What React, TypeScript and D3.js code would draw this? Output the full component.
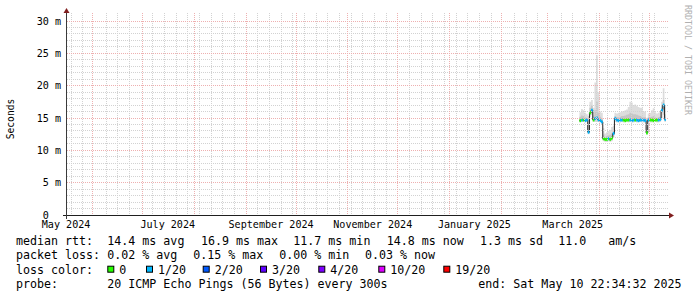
import React from "react";
import * as d3 from "d3";

// ---------- data ----------
const END_TIME = Date.UTC(2025, 4, 10, 22, 34, 32);
const SPAN_DAYS = 360;
const DATA_START = Date.UTC(2025, 2, 20); // first daily sample
const Y_MAX_MS = 30.93;

const medianMs = [
  14.6, 14.7, 14.7, 14.6, 14.7, 12.8, 15.8, 16.2, 14.7, 14.9,
  15.0, 14.7, 14.6, 14.4, 11.8, 11.7, 11.7, 11.8, 11.7, 11.9,
  12.6, 14.9, 14.7, 14.6, 14.7, 14.7, 14.7, 14.6, 14.7, 14.7,
  14.7, 14.6, 14.7, 14.7, 14.7, 14.6, 14.7, 14.7, 14.7, 14.6,
  12.7, 14.7, 14.7, 14.7, 14.6, 14.7, 14.7, 14.7, 14.8, 16.2,
  17.0, 14.8,
];
const lossPct = [
  0, 0.03, 0, 0.02, 0.04, 0.05, 0, 0.03, 0, 0.06,
  0.15, 0.08, 0.04, 0.03, 0, 0, 0, 0.03, 0, 0,
  0.04, 0.03, 0.02, 0.03, 0.02, 0.03, 0, 0, 0, 0,
  0.03, 0.02, 0.03, 0, 0.02, 0.03, 0.02, 0.03, 0.02, 0.03,
  0, 0.02, 0, 0, 0, 0, 0, 0.03, 0.02, 0.04,
  0.05, 0.03,
];
const smokeMin = [
  14.3, 14.4, 14.4, 14.3, 14.4, 12.5, 15.2, 15.5, 14.4, 14.4,
  14.4, 14.4, 14.3, 14.1, 11.4, 11.3, 11.3, 11.4, 11.3, 11.4,
  12.0, 14.4, 14.3, 14.3, 14.3, 14.4, 14.3, 14.3, 14.4, 14.3,
  14.4, 14.3, 14.3, 14.4, 14.3, 14.3, 14.4, 14.3, 14.3, 14.3,
  12.4, 14.4, 14.3, 14.3, 14.3, 14.4, 14.3, 14.3, 14.4, 15.0,
  15.5, 14.4,
];
const smokeLowQ = [
  14.5, 14.5, 14.5, 14.5, 14.5, 12.7, 15.5, 15.9, 14.6, 14.7,
  14.8, 14.6, 14.5, 14.3, 11.6, 11.5, 11.5, 11.6, 11.5, 11.7,
  12.4, 14.7, 14.5, 14.5, 14.5, 14.5, 14.5, 14.5, 14.5, 14.5,
  14.5, 14.5, 14.5, 14.5, 14.5, 14.5, 14.5, 14.5, 14.5, 14.5,
  12.6, 14.5, 14.5, 14.5, 14.5, 14.5, 14.5, 14.5, 14.6, 15.8,
  16.4, 14.6,
];
const smokeHighQ = [
  15.2, 15.4, 15.3, 15.1, 15.0, 13.9, 16.6, 16.9, 15.4, 16.2,
  17.5, 15.8, 15.2, 14.9, 12.4, 12.1, 12.2, 12.3, 12.4, 12.6,
  13.2, 15.3, 15.1, 15.1, 15.2, 15.3, 15.3, 15.4, 15.5, 15.6,
  15.8, 15.7, 15.6, 15.6, 15.5, 15.4, 15.3, 15.2, 15.1, 15.1,
  13.6, 15.1, 15.1, 15.2, 15.3, 15.1, 15.0, 15.1, 15.2, 16.8,
  17.8, 15.6,
];
const smokeMax = [
  15.9, 16.4, 16.2, 15.8, 15.6, 15.3, 17.5, 17.8, 16.6, 20.5,
  24.7, 19.0, 16.0, 15.8, 13.4, 12.6, 12.8, 13.0, 13.2, 13.6,
  13.8, 15.8, 15.7, 15.8, 15.9, 16.0, 16.1, 16.2, 16.3, 16.7,
  17.5, 17.4, 17.0, 17.1, 16.9, 16.7, 16.6, 16.6, 16.0, 16.0,
  15.0, 15.7, 15.8, 16.2, 16.5, 15.9, 15.7, 15.8, 16.0, 17.5,
  19.6, 17.0,
];

const yMajorTicks = [0, 5, 10, 15, 20, 25, 30];
const yMinorStep = 1;

const lossLabels = ["0", "1/20", "2/20", "3/20", "4/20", "10/20", "19/20"];
const lossLimits = [0, 1, 2, 3, 4, 10, 19]; // lost pings (of 20)
const lossColors = ["#26ff00", "#00b8ff", "#0059ff", "#5e00ff", "#7e00ff", "#dd00ff", "#ff0000"];
const PINGS = 20;

const rttLabel = "median rtt:";
const rttStats = ["14.4 ms avg", "16.9 ms max", "11.7 ms min", "14.8 ms now", "1.3 ms sd", "11.0", "am/s"];
const lossLabel = "packet loss:";
const lossStats = ["0.02 % avg", "0.15 % max", "0.00 % min", "0.03 % now"];
const colorLabel = "loss color:";
const probeLabel = "probe:";
const probeText = "20 ICMP Echo Pings (56 Bytes) every 300s";
const endText = "end: Sat May 10 22:34:32 2025";
const yTitle = "Seconds";
const sideText = "RRDTOOL / TOBI OETIKER";

// ---------- layout ----------
const W = 697;
const H = 297;
const X0 = 67;
const X1 = 667;
const Y0 = 215;
const Y1 = 15;
const LEG_X = 16;
const rttX = [107.3, 201, 293.3, 386.7, 480, 558.3, 608.3];
const lossX = [107.3, 193.3, 279.3, 365];
const boxX = [107.3, 146, 202.7, 260, 318.3, 378.3, 443.3];
const endX = 478.3;
const ROW = [245, 259.3, 273.7, 288];

const MONO = "'DejaVu Sans Mono', monospace";
const DAY = 86400000;

function lossColor(p: number) {
  const lost = (p / 100) * PINGS;
  if (lost === 0) return lossColors[0];
  for (let k = 1; k < lossLimits.length; k++) {
    if (lost <= lossLimits[k]) return lossColors[k];
  }
  return lossColors[lossColors.length - 1];
}

export default function App() {
  const start = END_TIME - SPAN_DAYS * DAY;
  const x = d3.scaleUtc().domain([new Date(start), new Date(END_TIME)]).range([X0 - 1, X1 - 1]);
  const y = d3.scaleLinear().domain([0, Y_MAX_MS]).range([Y0, Y1]);

  const n = medianMs.length;
  const t0 = (i: number) => new Date(DATA_START + i * DAY);
  const t1 = (i: number) => new Date(Math.min(DATA_START + (i + 1) * DAY, END_TIME));

  type P = { t: Date; a: number; b: number };
  const band = (lo: number[], hi: number[]): P[] => {
    const pts: P[] = lo.map((v, i) => ({ t: t0(i), a: v, b: hi[i] }));
    pts.push({ t: t1(n - 1), a: lo[n - 1], b: hi[n - 1] });
    return pts;
  };
  const areaGen = d3
    .area<P>()
    .x((d) => x(d.t))
    .y0((d) => y(d.a))
    .y1((d) => y(d.b))
    .curve(d3.curveStepAfter);

  const medPts: [number, number][] = medianMs.map((v, i) => [x(t0(i)), y(v)]);
  medPts.push([x(t1(n - 1)), y(medianMs[n - 1])]);
  const lineGen = d3.line().curve(d3.curveStepAfter);

  // grid
  const snap = (v: number) => Math.floor(v) + 0.5;
  const months = d3.utcMonth.range(new Date(start), new Date(END_TIME));
  const monthPx = months.map((m) => x(m));
  const weeks = d3.utcSunday
    .range(new Date(start), new Date(END_TIME))
    .map((w) => x(w))
    .filter((px) => monthPx.every((mp) => Math.abs(mp - px) > 2.5));
  const yMinor = d3.range(0, Y_MAX_MS, yMinorStep).filter((v) => v > 0 && v % 5 !== 0);
  const labelMonths = d3.utcMonth
    .every(2)!
    .range(d3.utcMonth.floor(new Date(start)), new Date(END_TIME))
    .map((m) => new Date(+m + 15 * DAY))
    .filter((d) => +d >= start && +d <= END_TIME);
  const fmt = d3.utcFormat("%B %Y");

  const minorCol = "#d2d2d2";
  const majorCol = "#eeb0b0";

  return (
    <svg width={W} height={H} style={{ display: "block", position: "absolute", left: 0, top: 0, background: "#fff" }}>
      <rect x={0} y={0} width={W} height={H} fill="#ffffff" />

      {/* smoke */}
      <path d={areaGen(band(smokeMin, smokeMax)) || ""} fill="#dddddd" />
      <path d={areaGen(band(smokeLowQ, smokeHighQ)) || ""} fill="#c6c6c6" />

      {/* median line */}
      <path d={lineGen(medPts) || ""} fill="none" stroke="#202020" strokeWidth={1} />
      {medianMs.map((v, i) => (
        <rect
          key={i}
          x={x(t0(i))}
          y={y(v) - 1.5}
          width={x(t1(i)) - x(t0(i))}
          height={3}
          fill={lossColor(lossPct[i])}
        />
      ))}

      {/* grid */}
      <g strokeDasharray="1 1" strokeWidth={1} shapeRendering="crispEdges">
        {weeks.map((px, i) => (
          <line key={"w" + i} x1={snap(px)} x2={snap(px)} y1={Y1 - 2} y2={Y0} stroke={minorCol} />
        ))}
        {yMinor.map((v, i) => (
          <line key={"ym" + i} x1={X0} x2={X1 + 2} y1={snap(y(v))} y2={snap(y(v))} stroke={minorCol} />
        ))}
        {monthPx.map((px, i) => (
          <line key={"m" + i} x1={snap(px)} x2={snap(px)} y1={Y1 - 2} y2={Y0} stroke={majorCol} />
        ))}
        {yMajorTicks
          .filter((v) => v > 0)
          .map((v, i) => (
            <line key={"yM" + i} x1={X0} x2={X1 + 2} y1={snap(y(v))} y2={snap(y(v))} stroke={majorCol} />
          ))}
      </g>

      {/* axes */}
      <line x1={X0 - 4} x2={X1 + 4} y1={Y0 + 0.5} y2={Y0 + 0.5} stroke="#1f1f1f" strokeWidth={1} shapeRendering="crispEdges" />
      <line x1={X0 - 0.5} x2={X0 - 0.5} y1={Y0 + 4} y2={Y1 - 4} stroke="#3a3a3a" strokeWidth={1} shapeRendering="crispEdges" />
      <polygon points={`${X1 + 2},${Y0 - 2.5} ${X1 + 2},${Y0 + 3.5} ${X1 + 7},${Y0 + 0.5}`} fill="#801f1f" />
      <polygon points={`${X0 - 3.5},${Y1 - 2} ${X0 + 2.5},${Y1 - 2} ${X0 - 0.5},${Y1 - 7}`} fill="#801f1f" />

      {/* axis labels */}
      <g fontFamily={MONO} fontSize={10.1} fill="#000">
        {yMajorTicks.map((v) => (
          <text key={v} x={61} y={y(v) + 3.5} textAnchor="end" style={{ whiteSpace: "pre" }}>
            {v === 0 ? "0\u00a0\u00a0" : `${v} m`}
          </text>
        ))}
        {labelMonths.map((d, i) => (
          <text key={i} x={x(d)} y={228} textAnchor="middle">
            {fmt(d)}
          </text>
        ))}
      </g>
      <text
        transform={`translate(14,${(Y0 + Y1) / 2 + 4}) rotate(-90)`}
        textAnchor="middle"
        fontFamily={MONO}
        fontSize={9.6}
        fill="#000"
      >
        {yTitle}
      </text>
      <text
        transform={`translate(685,5) rotate(90)`}
        fontFamily={MONO}
        fontSize={8.3}
        fill="#b0b0b0"
      >
        {sideText}
      </text>

      {/* legend */}
      <g fontFamily={MONO} fontSize={11.65} fill="#000" style={{ whiteSpace: "pre" }}>
        <text x={LEG_X} y={ROW[0]}>{rttLabel}</text>
        {rttStats.map((s, i) => (
          <text key={"r" + i} x={rttX[i]} y={ROW[0]}>{s}</text>
        ))}
        <text x={LEG_X} y={ROW[1]}>{lossLabel}</text>
        {lossStats.map((s, i) => (
          <text key={"l" + i} x={lossX[i]} y={ROW[1]}>{s}</text>
        ))}
        <text x={LEG_X} y={ROW[2]}>{colorLabel}</text>
        {lossLabels.map((s, i) => (
          <g key={"c" + i}>
            <rect x={boxX[i] + 0.5} y={ROW[2] - 7.5} width={6} height={6} fill={lossColors[i]} stroke="#000" strokeWidth={1} />
            <text x={boxX[i] + 12} y={ROW[2]}>{s}</text>
          </g>
        ))}
        <text x={LEG_X} y={ROW[3]}>{probeLabel}</text>
        <text x={rttX[0]} y={ROW[3]}>{probeText}</text>
        <text x={endX} y={ROW[3]}>{endText}</text>
      </g>
    </svg>
  );
}
